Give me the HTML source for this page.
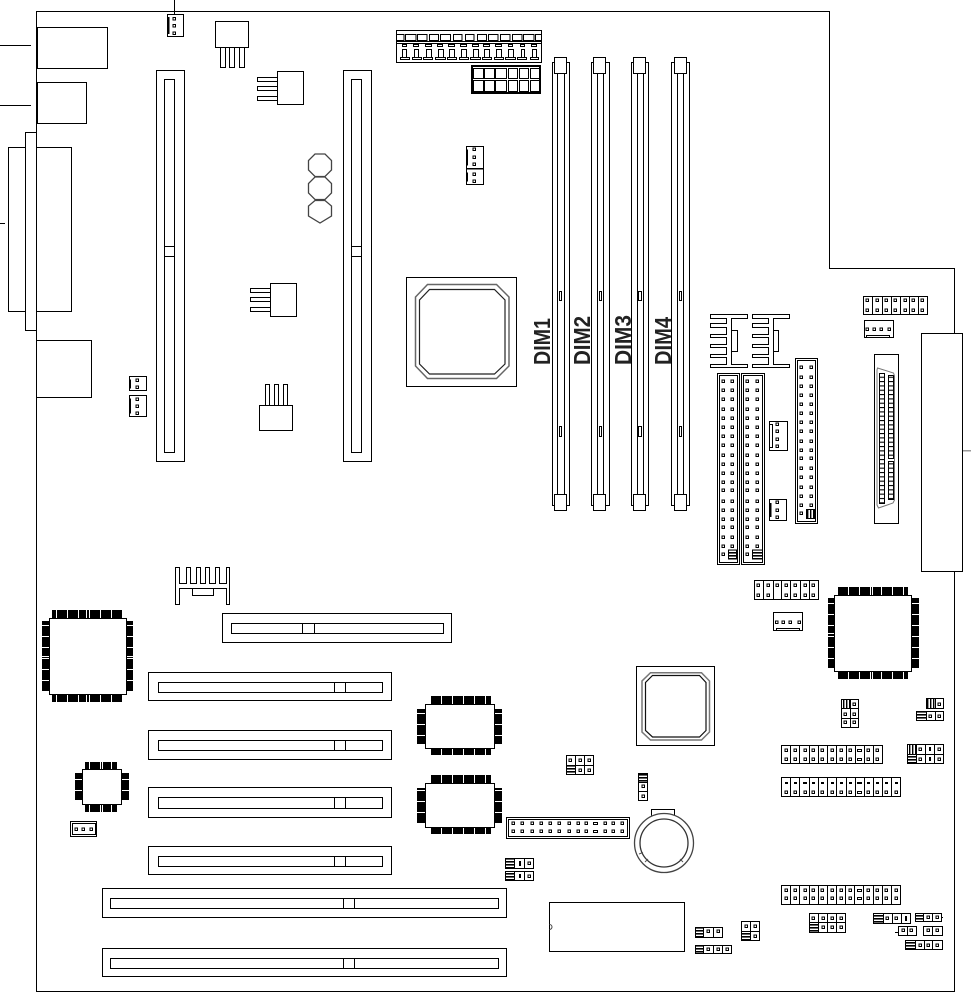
<!DOCTYPE html>
<html lang="en">
<head>
<meta charset="utf-8">
<title>Motherboard layout</title>
<style>
html,body{margin:0;padding:0;background:#fff}
svg{display:block}
.l{fill:none;stroke:#000;stroke-width:1}
.w{fill:#fff;stroke:#000;stroke-width:1}
.g{fill:none;stroke:#444;stroke-width:1.3}
.k{fill:#000;stroke:none}
.t{stroke:#fff;stroke-width:1;fill:none}
text{font-family:"Liberation Sans",sans-serif;font-size:23.5px;font-weight:bold;fill:#222}
</style>
</head>
<body>
<svg xmlns="http://www.w3.org/2000/svg" width="971" height="1002" viewBox="0 0 971 1002">
<defs>
<pattern id="hz" patternUnits="userSpaceOnUse" width="4" height="3"><rect width="4" height="3" fill="#fff"/><rect width="4" height="1.6" fill="#000"/></pattern>
<pattern id="vt" patternUnits="userSpaceOnUse" width="3" height="4"><rect width="3" height="4" fill="#fff"/><rect width="1.4" height="4" fill="#000"/></pattern>
<pattern id="cx" patternUnits="userSpaceOnUse" width="8" height="4.33"><rect width="8" height="4.33" fill="#fff"/><rect width="8" height="1.1" fill="#000"/></pattern>
<rect id="p" x="-1" y="-1" width="2.5" height="2.5" fill="#fff" stroke="#000" stroke-width="1"/>
<g id="ide">
<use href="#p" y="381"/><use href="#p" y="390"/><use href="#p" y="399"/><use href="#p" y="409"/><use href="#p" y="418"/><use href="#p" y="427"/><use href="#p" y="436"/><use href="#p" y="445"/><use href="#p" y="455"/><use href="#p" y="464"/><use href="#p" y="473"/><use href="#p" y="482"/><use href="#p" y="490"/><use href="#p" y="501"/><use href="#p" y="510"/><use href="#p" y="519"/><use href="#p" y="527"/><use href="#p" y="537"/><use href="#p" y="546"/><use href="#p" y="554"/>
</g>
<g id="fdd">
<use href="#p" y="367"/><use href="#p" y="377"/><use href="#p" y="386"/><use href="#p" y="395"/><use href="#p" y="404"/><use href="#p" y="413"/><use href="#p" y="422"/><use href="#p" y="431"/><use href="#p" y="441"/><use href="#p" y="450"/><use href="#p" y="458"/><use href="#p" y="468"/><use href="#p" y="477"/><use href="#p" y="487"/><use href="#p" y="496"/><use href="#p" y="505"/><use href="#p" y="513"/>
</g>
<path id="hs" class="l" d="M710.500 314.500H747.500V318.500H731.500V364.500H747.500V367.500H710.500V364.500H726.500V357.500H710.500V354.500H726.500V347.500H710.500V344.500H726.500V337.500H710.500V334.500H726.500V327.500H710.500V323.500H726.500V318.500H710.500Z"/>
</defs>
<g shape-rendering="crispEdges">
<!-- board outline -->
<path class="l" d="M36.500 11.500H829.500V268.500H954.500V991.500H36.500Z"/>
<path class="l" d="M174.500 0V14M0 45.500H31M0 105.500H31M0 223.500H5"/>
<path d="M962.500 450.500H971" stroke="#999" stroke-width="1.500" fill="none"/>

<!-- rear io -->
<rect class="w" x="37.500" y="27.500" width="70" height="41"/>
<rect class="w" x="37.500" y="82.500" width="49" height="41"/>
<rect class="w" x="8.500" y="147.500" width="63" height="164"/>
<rect class="w" x="25.500" y="132.500" width="11" height="198"/>
<rect class="w" x="36.500" y="340.500" width="55" height="57"/>

<!-- top left header -->
<rect class="w" x="167.500" y="14.500" width="16" height="22"/>
<path d="M168.500 17V34" stroke="#000" stroke-width="1.500"/>
<use href="#p" x="174" y="18.500"/><use href="#p" x="174" y="25.500"/><use href="#p" x="174" y="33"/>

<!-- regulators -->
<path class="l" d="M215.500 21.500H248.500V47.500H215.500ZM220.500 47.500V67.500H225.500V47.500M229.500 47.500V67.500H234.500V47.500M239.500 47.500V67.500H244.500V47.500"/>
<path class="l" d="M277.500 71.500H303.500V104.500H277.500ZM277.500 77.500H257.500V81.500H277.500M277.500 86.500H257.500V90.500H277.500M277.500 96.500H257.500V100.500H277.500"/>
<path class="l" d="M270.500 283.500H296.500V316.500H270.500ZM270.500 288.500H250.500V292.500H270.500M270.500 297.500H250.500V301.500H270.500M270.500 307.500H250.500V311.500H270.500"/>
<path class="l" d="M259.500 405.500H292.500V430.500H259.500ZM265.500 405.500V384.500H269.500V405.500M274.500 405.500V384.500H278.500V405.500M283.500 405.500V384.500H287.500V405.500"/>

<!-- vertical slots -->
<rect class="l" x="156.500" y="70.500" width="28" height="391"/>
<rect class="l" x="164.500" y="79.500" width="10" height="373"/>
<path class="l" d="M164.500 246.500H174.500M164.500 256.500H174.500"/>
<rect class="l" x="343.500" y="70.500" width="28" height="391"/>
<rect class="l" x="351.500" y="79.500" width="10" height="373"/>
<path class="l" d="M351.500 246.500H361.500M351.500 256.500H361.500"/>

<!-- ATX power -->
<rect class="l" x="396.500" y="30.500" width="145" height="32"/>
<path class="l" d="M396.500 41.500H541.500M396.500 43.500H541.500"/>
<path class="l" d="M396.500 34.500H404V40.500H396.500M405.500 34.500H416V40.500H405.500ZM417.500 34.500H427V40.500H417.500ZM429.500 34.500H438.500V40.500H429.500ZM440.500 34.500H450.500V40.500H440.500ZM453.500 34.500H462V40.500H453.500ZM465.500 34.500H474V40.500H465.500ZM477.500 34.500H486.500V40.500H477.500ZM488.500 34.500H498V40.500H488.500ZM500.500 34.500H510V40.500H500.500ZM512.500 34.500H522V40.500H512.500ZM523.500 34.500H534V40.500H523.500ZM535.500 34.500H541.500V40.500H535.500Z"/>
<path class="l" d="M402.500 44.500H406.500V46.500H402.500ZM413.500 44.500H418.500V46.500H413.500ZM425.500 44.500H431.500V46.500H425.500ZM437.500 44.500H442.500V46.500H437.500ZM448.500 44.500H454.500V46.500H448.500ZM460.500 44.500H466.500V46.500H460.500ZM472.500 44.500H478.500V46.500H472.500ZM483.500 44.500H489.500V46.500H483.500ZM495.500 44.500H501.500V46.500H495.500ZM508.500 44.500H512.500V46.500H508.500ZM520.500 44.500H524.500V46.500H520.500ZM531.500 44.500H536.500V46.500H531.500Z"/>
<path class="l" d="M402.500 49.500H406.500V57.500H402.500ZM414.500 49.500H418.500V57.500H414.500ZM426.500 49.500H431.500V57.500H426.500ZM438.500 49.500H443.500V57.500H438.500ZM449.500 49.500H454.500V57.500H449.500ZM461.500 49.500H466.500V57.500H461.500ZM473.500 49.500H478.500V57.500H473.500ZM484.500 49.500H489.500V57.500H484.500ZM496.500 49.500H501.500V57.500H496.500ZM508.500 49.500H513.500V57.500H508.500ZM521.500 49.500H524.500V57.500H521.500ZM532.500 49.500H536.500V57.500H532.500Z"/>
<path class="l" d="M400.500 57.500H409.500V59.500H400.500ZM412.500 57.500H421.500V59.500H412.500ZM423.500 57.500H432.500V59.500H423.500ZM435.500 57.500H445.500V59.500H435.500ZM447.500 57.500H456.500V59.500H447.500ZM459.500 57.500H468.500V59.500H459.500ZM470.500 57.500H480.500V59.500H470.500ZM482.500 57.500H491.500V59.500H482.500ZM494.500 57.500H503.500V59.500H494.500ZM505.500 57.500H515.500V59.500H505.500ZM517.500 57.500H526.500V59.500H517.500ZM530.500 57.500H538.500V59.500H530.500Z"/>

<!-- second power -->
<rect x="472" y="66" width="68" height="27" fill="#fff" stroke="#000" stroke-width="2"/>
<path class="l" d="M473.500 68.500H483.500V78.500H473.500ZM484.500 68.500H494.500V78.500H484.500ZM495.500 68.500H506.500V78.500H495.500ZM508.500 68.500H517.500V78.500H508.500ZM519.500 68.500H528.500V78.500H519.500ZM530.500 68.500H539.500V78.500H530.500Z"/>
<path class="l" d="M473.500 80.500H483.500V91.500H473.500ZM484.500 80.500H494.500V91.500H484.500ZM495.500 80.500H506.500V91.500H495.500ZM508.500 80.500H517.500V91.500H508.500ZM519.500 80.500H528.500V91.500H519.500ZM530.500 80.500H539.500V91.500H530.500Z"/>

<!-- small 3+2 header -->
<rect class="l" x="466.500" y="146.500" width="17" height="38"/>
<path d="M466 168.500H484" stroke="#000" stroke-width="1.500"/>
<path class="l" d="M467.500 149.500V165.500M467.500 172.500V181.500"/>
<use href="#p" x="474" y="149"/><use href="#p" x="474" y="157"/><use href="#p" x="474" y="164"/><use href="#p" x="474" y="174"/><use href="#p" x="474" y="181"/>

<!-- CPU -->
<rect class="l" x="406.500" y="277.500" width="110" height="109"/>

<!-- DIMMs -->
<path class="l" d="M552.500 62.500H569.500V505.500H552.500ZM557.500 62.500V505.500M564.500 62.500V505.500"/>
<rect class="w" x="554.500" y="57.500" width="12" height="16"/><rect class="w" x="554.500" y="494.500" width="12" height="16"/>
<rect class="w" x="559.500" y="291.500" width="2" height="9"/><rect class="w" x="559.500" y="426.500" width="2" height="10"/>
<path class="l" d="M591.500 62.500H609.500V505.500H591.500ZM597.500 62.500V505.500M603.500 62.500V505.500"/>
<rect class="w" x="593.500" y="57.500" width="12" height="16"/><rect class="w" x="593.500" y="494.500" width="12" height="16"/>
<rect class="w" x="599.500" y="291.500" width="2" height="9"/><rect class="w" x="599.500" y="426.500" width="2" height="10"/>
<path class="l" d="M631.500 62.500H648.500V505.500H631.500ZM637.500 62.500V505.500M643.500 62.500V505.500"/>
<rect class="w" x="633.500" y="57.500" width="12" height="16"/><rect class="w" x="633.500" y="494.500" width="12" height="16"/>
<rect class="w" x="638.500" y="291.500" width="3" height="9"/><rect class="w" x="638.500" y="426.500" width="3" height="10"/>
<path class="l" d="M671.500 62.500H689.500V505.500H671.500ZM677.500 62.500V505.500M683.500 62.500V505.500"/>
<rect class="w" x="674.500" y="57.500" width="12" height="16"/><rect class="w" x="674.500" y="494.500" width="12" height="16"/>
<rect class="w" x="679.500" y="291.500" width="2" height="9"/><rect class="w" x="679.500" y="426.500" width="2" height="10"/>

<!-- heatsinks -->
<use href="#hs"/>
<rect class="l" x="731.500" y="330.500" width="6" height="21"/>
<use href="#hs" x="42"/>
<rect class="l" x="773.500" y="330.500" width="5" height="21"/>

<!-- IDE -->
<rect class="l" x="717.500" y="373.500" width="22" height="191"/>
<rect class="l" x="719.500" y="375.500" width="18" height="187"/>
<use href="#ide" x="723"/><use href="#ide" x="732"/>
<rect x="728.500" y="550" width="8" height="9" fill="url(#hz)" stroke="#000" stroke-width="1"/>
<rect class="l" x="741.500" y="373.500" width="23" height="191"/>
<rect class="l" x="743.500" y="375.500" width="19" height="187"/>
<use href="#ide" x="747"/><use href="#ide" x="757"/>
<rect x="752.500" y="550" width="10" height="9" fill="url(#hz)" stroke="#000" stroke-width="1"/>
<rect class="l" x="795.500" y="358.500" width="22" height="165"/>
<rect class="l" x="797.500" y="360.500" width="18" height="161"/>
<use href="#fdd" x="801"/><use href="#fdd" x="811"/>
<rect x="806.500" y="509.500" width="8" height="9" fill="url(#vt)" stroke="#000" stroke-width="1"/>

<!-- mid connectors -->
<rect class="l" x="769.500" y="421.500" width="18" height="29"/>
<rect class="l" x="769.500" y="424.500" width="3" height="23"/>
<use href="#p" x="777" y="424"/><use href="#p" x="777" y="431"/><use href="#p" x="777" y="439"/><use href="#p" x="777" y="446"/>
<rect class="l" x="769.500" y="499.500" width="17" height="21"/>
<path d="M770.500 503V517" stroke="#000" stroke-width="1.500"/>
<use href="#p" x="777" y="502"/><use href="#p" x="777" y="510"/><use href="#p" x="777" y="517"/>

<!-- top right header -->
<path class="l" d="M863.500 296.500H927.500V314.500H863.500ZM872.500 296.500V314.500M882.500 296.500V314.500M891.500 296.500V314.500M900.500 296.500V314.500M909.500 296.500V314.500M918.500 296.500V314.500"/>
<use href="#p" x="867" y="300"/><use href="#p" x="877" y="300"/><use href="#p" x="886" y="300"/><use href="#p" x="895" y="300"/><use href="#p" x="905" y="300"/><use href="#p" x="913" y="300"/><use href="#p" x="922" y="300"/>
<use href="#p" x="867" y="310"/><use href="#p" x="877" y="310"/><use href="#p" x="886" y="310"/><use href="#p" x="895" y="310"/><use href="#p" x="905" y="310"/><use href="#p" x="913" y="310"/><use href="#p" x="922" y="310"/>
<rect class="l" x="864.500" y="320.500" width="29" height="17"/>
<path class="l" d="M866.500 337.500V335.500H889.500V337.500"/>
<use href="#p" x="867" y="329"/><use href="#p" x="874" y="329"/><use href="#p" x="881" y="329"/><use href="#p" x="889" y="329"/>

<!-- big rear rect -->
<rect class="w" x="921.500" y="333.500" width="41" height="238"/>

<!-- centronics -->
<rect class="l" x="874.500" y="354.500" width="24" height="169"/>
<rect x="879.500" y="373.500" width="5" height="130" fill="url(#cx)" stroke="#000" stroke-width="1"/>
<rect x="888.500" y="375.500" width="5" height="83" fill="url(#cx)" stroke="#000" stroke-width="1"/>
<rect x="888.500" y="461.500" width="5" height="38" fill="url(#cx)" stroke="#000" stroke-width="1"/>

<!-- right top chip -->
<rect class="k" x="838" y="587" width="70" height="9"/><rect class="k" x="838" y="671" width="70" height="8"/>
<rect class="k" x="828" y="598" width="7" height="70"/><rect class="k" x="911" y="598" width="8" height="70"/>
<path class="t" d="M848.500 587V595M859.500 587V595M870.500 587V595M872.500 587V595M881.500 587V595M892.500 587V595M903.500 587V595M848.500 672V679M859.500 672V679M870.500 672V679M872.500 672V679M881.500 672V679M892.500 672V679M903.500 672V679M828 603.500H834M828 614.500H834M828 625.500H834M828 633.500H834M828 636.500H834M828 647.500H834M828 658.500H834M912 603.500H919M912 614.500H919M912 625.500H919M912 636.500H919M912 647.500H919M912 658.500H919"/>
<rect class="w" x="834.500" y="595.500" width="77" height="76"/>

<!-- right headers -->
<path class="l" d="M754.500 580.500H818.500V599.500H754.500ZM763.500 580.500V599.500M773.500 580.500V599.500M781.500 580.500V599.500M790.500 580.500V599.500M800.500 580.500V599.500M809.500 580.500V599.500"/>
<use href="#p" x="758" y="585"/><use href="#p" x="768" y="585"/><use href="#p" x="777" y="585"/><use href="#p" x="786" y="585"/><use href="#p" x="795" y="585"/><use href="#p" x="805" y="585"/><use href="#p" x="813" y="585"/>
<use href="#p" x="758" y="595"/><use href="#p" x="768" y="595"/><use href="#p" x="786" y="595"/><use href="#p" x="795" y="595"/><use href="#p" x="805" y="595"/><use href="#p" x="813" y="595"/>
<rect class="l" x="773.500" y="612.500" width="29" height="18"/>
<path class="l" d="M776.500 630.500V628.500H799.500V630.500"/>
<use href="#p" x="776.500" y="622"/><use href="#p" x="783" y="622"/><use href="#p" x="790" y="622"/><use href="#p" x="799" y="622"/>

<!-- J1 -->
<path class="l" d="M841.500 699.500H858.500V727.500H841.500ZM850.500 699.500V727.500M841.500 708.500H858.500M841.500 718.500H858.500"/>
<rect x="841.500" y="699.500" width="9" height="9" fill="url(#vt)" stroke="#000"/>
<use href="#p" x="854" y="704"/><use href="#p" x="845" y="714"/><use href="#p" x="854" y="714"/><use href="#p" x="845" y="722"/><use href="#p" x="854" y="722"/>
<!-- J2 J3 -->
<path class="l" d="M926.500 698.500H943.500V708.500H926.500Z"/>
<rect x="926.500" y="698.500" width="9" height="10" fill="url(#vt)" stroke="#000"/>
<use href="#p" x="939" y="704"/>
<path class="l" d="M916.500 711.500H943.500V720.500H916.500ZM935.500 711.500V720.500"/>
<rect x="916.500" y="711.500" width="10" height="9" fill="url(#hz)" stroke="#000"/>
<use href="#p" x="930" y="716"/><use href="#p" x="939" y="716"/>
<!-- H1 -->
<path class="l" d="M781.500 745.500H882.500V763.500H781.500ZM790.500 745.500V763.500M799.500 745.500V763.500M809.500 745.500V763.500M818.500 745.500V763.500M827.500 745.500V763.500M836.500 745.500V763.500M846.500 745.500V763.500M855.500 745.500V763.500M864.500 745.500V763.500M873.500 745.500V763.500"/>
<use href="#p" x="786" y="750"/><use href="#p" x="795" y="750"/><use href="#p" x="805" y="750"/><use href="#p" x="813" y="750"/><use href="#p" x="822" y="750"/><use href="#p" x="832" y="750"/><use href="#p" x="841" y="750"/><use href="#p" x="850" y="750"/><rect class="l" x="857.500" y="749.500" width="4" height="2"/><use href="#p" x="868" y="750"/><use href="#p" x="877" y="750"/>
<use href="#p" x="786" y="759"/><use href="#p" x="795" y="759"/><use href="#p" x="805" y="759"/><use href="#p" x="813" y="759"/><use href="#p" x="822" y="759"/><use href="#p" x="832" y="759"/><use href="#p" x="841" y="759"/><use href="#p" x="850" y="759"/><rect class="l" x="857.500" y="758.500" width="4" height="2"/><use href="#p" x="868" y="759"/><use href="#p" x="877" y="759"/>
<!-- J4 -->
<path class="l" d="M907.500 744.500H943.500V763.500H907.500ZM916.500 744.500V763.500M925.500 744.500V763.500M934.500 744.500V763.500M907.500 754.500H943.500"/>
<rect x="907.500" y="744.500" width="9" height="10" fill="url(#vt)" stroke="#000"/>
<rect x="907.500" y="754.500" width="9" height="9" fill="url(#hz)" stroke="#000"/>
<use href="#p" x="920" y="749"/><path class="k" d="M929 747h2v4h-2z"/><use href="#p" x="939" y="749"/>
<use href="#p" x="920" y="759"/><path class="k" d="M929 757h2v4h-2z"/><use href="#p" x="939" y="759"/>
<!-- H2 -->
<path class="l" d="M781.500 777.500H900.500V796.500H781.500ZM790.500 777.500V796.500M799.500 777.500V796.500M809.500 777.500V796.500M818.500 777.500V796.500M827.500 777.500V796.500M836.500 777.500V796.500M846.500 777.500V796.500M855.500 777.500V796.500M864.500 777.500V796.500M873.500 777.500V796.500M882.500 777.500V796.500M891.500 777.500V796.500"/>
<path class="k" d="M785 782h3v2h-3zM794 782h3v2h-3zM803 782h4v2h-4zM812 782h3v2h-3zM821 782h3v2h-3zM831 782h3v2h-3zM840 782h3v2h-3zM849 782h3v2h-3zM857 782h5v2h-5zM867 782h3v2h-3zM876 782h3v2h-3zM885 782h3v2h-3zM895 782h3v2h-3z"/>
<use href="#p" x="786" y="792"/><use href="#p" x="795" y="792"/><use href="#p" x="805" y="792"/><use href="#p" x="813" y="792"/><use href="#p" x="822" y="792"/><use href="#p" x="832" y="792"/><use href="#p" x="841" y="792"/><use href="#p" x="850" y="792"/><rect class="l" x="857.500" y="791.500" width="4" height="2"/><use href="#p" x="868" y="792"/><use href="#p" x="877" y="792"/><use href="#p" x="886" y="792"/><use href="#p" x="896" y="792"/>
<!-- H3 -->
<path class="l" d="M781.500 885.500H900.500V904.500H781.500ZM790.500 885.500V904.500M799.500 885.500V904.500M809.500 885.500V904.500M818.500 885.500V904.500M827.500 885.500V904.500M836.500 885.500V904.500M845.500 885.500V904.500M854.500 885.500V904.500M863.500 885.500V904.500M873.500 885.500V904.500M882.500 885.500V904.500M891.500 885.500V904.500"/>
<use href="#p" x="786" y="890"/><use href="#p" x="795" y="890"/><use href="#p" x="805" y="890"/><use href="#p" x="813" y="890"/><use href="#p" x="822" y="890"/><use href="#p" x="832" y="890"/><use href="#p" x="841" y="890"/><use href="#p" x="850" y="890"/><rect class="l" x="857.500" y="889.500" width="4" height="2"/><use href="#p" x="868" y="890"/><use href="#p" x="877" y="890"/><use href="#p" x="886" y="890"/><use href="#p" x="896" y="890"/>
<use href="#p" x="786" y="898"/><use href="#p" x="795" y="898"/><use href="#p" x="805" y="898"/><use href="#p" x="813" y="898"/><use href="#p" x="822" y="898"/><use href="#p" x="832" y="898"/><use href="#p" x="841" y="898"/><use href="#p" x="850" y="898"/><rect class="l" x="857.500" y="897.500" width="4" height="2"/><use href="#p" x="868" y="898"/><use href="#p" x="877" y="898"/><use href="#p" x="886" y="898"/><use href="#p" x="896" y="898"/>
<!-- J5 -->
<path class="l" d="M809.500 913.500H845.500V932.500H809.500ZM818.500 913.500V932.500M827.500 913.500V932.500M836.500 913.500V932.500M809.500 922.500H845.500"/>
<rect x="809.500" y="922.500" width="9" height="10" fill="url(#hz)" stroke="#000"/>
<use href="#p" x="813" y="918"/><use href="#p" x="823" y="918"/><use href="#p" x="832" y="918"/><use href="#p" x="841" y="918"/>
<use href="#p" x="823" y="927"/><use href="#p" x="832" y="927"/><use href="#p" x="841" y="927"/>
<!-- J6-J10 -->
<path class="l" d="M873.500 913.500H910.500V923.500H873.500ZM883.500 913.500V923.500M892.500 913.500V923.500M901.500 913.500V923.500"/>
<rect x="873.500" y="913.500" width="10" height="10" fill="url(#hz)" stroke="#000"/>
<use href="#p" x="887" y="918"/><use href="#p" x="896" y="918"/><path class="k" d="M905 916h2v5h-2z"/>
<path class="l" d="M915.500 913.500H941.500V921.500H915.500ZM932.500 913.500V921.500M941.500 917.500H943"/>
<rect x="915.500" y="913.500" width="8" height="8" fill="url(#hz)" stroke="#000"/>
<use href="#p" x="928" y="917"/><use href="#p" x="937" y="917"/>
<path class="l" d="M898.500 926.500H916.500V935.500H898.500ZM907.500 926.500V935.500M895 932.500H898.500"/>
<use href="#p" x="903" y="930"/><use href="#p" x="911" y="930"/>
<path class="l" d="M923.500 926.500H942.500V935.500H923.500ZM932.500 926.500V935.500"/>
<use href="#p" x="928" y="930"/><use href="#p" x="937" y="930"/>
<path class="l" d="M905.500 940.500H942.500V949.500H905.500ZM915.500 940.500V949.500M924.500 940.500V949.500M932.500 940.500V949.500"/>
<rect x="905.500" y="940.500" width="10" height="9" fill="url(#hz)" stroke="#000"/>
<use href="#p" x="920" y="945"/><use href="#p" x="928" y="945"/><use href="#p" x="937" y="945"/>
<!-- J11-13 -->
<path class="l" d="M695.500 927.500H722.500V937.500H695.500ZM713.500 927.500V937.500"/>
<rect x="695.500" y="927.500" width="8" height="10" fill="url(#hz)" stroke="#000"/>
<use href="#p" x="708" y="931"/><use href="#p" x="718" y="931"/>
<path class="l" d="M695.500 945.500H731.500V953.500H695.500ZM713.500 945.500V953.500M722.500 945.500V953.500"/>
<rect x="695.500" y="945.500" width="8" height="8" fill="url(#hz)" stroke="#000"/>
<use href="#p" x="708" y="949"/><use href="#p" x="718" y="949"/><use href="#p" x="727" y="949"/>
<path class="l" d="M741.500 921.500H759.500V940.500H741.500ZM750.500 921.500V940.500M741.500 931.500H759.500"/>
<rect x="741.500" y="931.500" width="9" height="9" fill="url(#hz)" stroke="#000"/>
<use href="#p" x="746" y="926"/><use href="#p" x="755" y="926"/><use href="#p" x="755" y="936"/>

<!-- left QFP -->
<rect class="k" x="52" y="610" width="70" height="9"/><rect class="k" x="52" y="694" width="70" height="8"/>
<rect class="k" x="42" y="621" width="8" height="70"/><rect class="k" x="126" y="621" width="7" height="70"/>
<path class="t" d="M56.500 610V618M67.500 610V618M78.500 610V618M86.500 610V618M89.500 610V618M100.500 610V618M111.500 610V618M56.500 695V702M67.500 695V702M78.500 695V702M86.500 695V702M89.500 695V702M100.500 695V702M111.500 695V702M42 625.500H49M42 636.500H49M42 647.500H49M42 656.500H49M42 658.500H49M42 669.500H49M42 680.500H49M127 625.500H133M127 636.500H133M127 647.500H133M127 656.500H133M127 658.500H133M127 669.500H133M127 680.500H133"/>
<rect class="w" x="49.500" y="618.500" width="77" height="76"/>

<!-- small chip -->
<rect class="k" x="85" y="762" width="32" height="8"/><rect class="k" x="85" y="804" width="32" height="8"/>
<rect class="k" x="75" y="773" width="8" height="27"/><rect class="k" x="121" y="773" width="8" height="27"/>
<path class="t" d="M89.500 762V769M100.500 762V769M102.500 762V769M111.500 762V769M89.500 805V812M100.500 805V812M102.500 805V812M111.500 805V812M75 779.500H82M75 790.500H82M122 779.500H129M122 790.500H129"/>
<rect class="w" x="82.500" y="769.500" width="39" height="35"/>
<rect class="l" x="70.500" y="821.500" width="26" height="15"/>
<rect class="l" x="72.500" y="823.500" width="23" height="11"/>
<use href="#p" x="76" y="829"/><use href="#p" x="83" y="829"/><use href="#p" x="91" y="829"/>

<!-- heatsink -->
<path class="l" d="M175.500 567.500H179.500V583.500H186.500V567.500H190.500V583.500H196.500V567.500H200.500V583.500H205.500V567.500H209.500V583.500H215.500V567.500H219.500V583.500H226.500V567.500H229.500V604.500H226.500V588.500H179.500V604.500H175.500Z"/>
<rect class="l" x="192.500" y="588.500" width="21" height="7"/>

<!-- horizontal slots -->
<rect class="l" x="222.500" y="613.500" width="229" height="29"/><rect class="l" x="231.500" y="623.500" width="212" height="10"/><path class="l" d="M302.500 623.500V633.500M314.500 623.500V633.500"/>
<rect class="l" x="148.500" y="672.500" width="243" height="28"/><rect class="l" x="158.500" y="682.500" width="224" height="10"/><path class="l" d="M334.500 682.500V692.500M345.500 682.500V692.500"/>
<rect class="l" x="148.500" y="730.500" width="243" height="29"/><rect class="l" x="158.500" y="740.500" width="224" height="10"/><path class="l" d="M334.500 740.500V750.500M345.500 740.500V750.500"/>
<rect class="l" x="148.500" y="787.500" width="243" height="30"/><rect class="l" x="158.500" y="797.500" width="224" height="11"/><path class="l" d="M334.500 797.500V808.500M345.500 797.500V808.500"/>
<rect class="l" x="148.500" y="846.500" width="243" height="28"/><rect class="l" x="158.500" y="856.500" width="224" height="10"/><path class="l" d="M334.500 856.500V866.500M345.500 856.500V866.500"/>
<rect class="l" x="102.500" y="888.500" width="404" height="29"/><rect class="l" x="110.500" y="898.500" width="388" height="10"/><path class="l" d="M343.500 898.500V908.500M354.500 898.500V908.500"/>
<rect class="l" x="102.500" y="948.500" width="404" height="28"/><rect class="l" x="110.500" y="958.500" width="388" height="10"/><path class="l" d="M343.500 958.500V968.500M354.500 958.500V968.500"/>

<!-- mid chips -->
<rect class="k" x="431" y="696" width="60" height="9"/><rect class="k" x="431" y="748" width="60" height="7"/>
<rect class="k" x="417" y="709" width="9" height="35"/><rect class="k" x="494" y="709" width="8" height="35"/>
<path class="t" d="M441.500 696V704M452.500 696V704M463.500 696V704M474.500 696V704M485.500 696V704M441.500 749V755M452.500 749V755M463.500 749V755M474.500 749V755M485.500 749V755M417 713.500H425M417 724.500H425M417 735.500H425M495 713.500H502M495 724.500H502M495 735.500H502"/>
<rect class="w" x="425.500" y="704.500" width="69" height="44"/>
<rect class="k" x="431" y="775" width="60" height="9"/><rect class="k" x="431" y="827" width="60" height="7"/>
<rect class="k" x="417" y="788" width="9" height="35"/><rect class="k" x="494" y="788" width="8" height="35"/>
<path class="t" d="M441.500 775V783M452.500 775V783M463.500 775V783M474.500 775V783M485.500 775V783M441.500 828V834M452.500 828V834M463.500 828V834M474.500 828V834M485.500 828V834M417 790.500H425M417 801.500H425M417 812.500H425M495 790.500H502M495 801.500H502M495 812.500H502"/>
<rect class="w" x="425.500" y="783.500" width="69" height="44"/>

<!-- north bridge -->
<rect class="l" x="636.500" y="666.500" width="78" height="79"/>

<!-- jumpers centre -->
<path class="l" d="M566.500 755.500H593.500V774.500H566.500ZM575.500 755.500V774.500M584.500 755.500V774.500M566.500 765.500H593.500"/>
<rect x="566.500" y="765.500" width="9" height="9" fill="url(#hz)" stroke="#000"/>
<use href="#p" x="570" y="760"/><use href="#p" x="580" y="760"/><use href="#p" x="589" y="760"/><use href="#p" x="580" y="770"/><use href="#p" x="589" y="770"/>
<path class="l" d="M638.500 773.500H647.500V800.500H638.500ZM638.500 791.500H647.500"/>
<rect x="638.500" y="773.500" width="9" height="9" fill="url(#hz)" stroke="#000"/>
<use href="#p" x="643" y="786"/><use href="#p" x="643" y="796"/>
<rect class="l" x="506.500" y="817.500" width="123" height="21"/>
<rect x="508.500" y="819.500" width="119" height="17" fill="none" stroke="#000"/>
<use href="#p" x="513" y="823"/><use href="#p" x="522" y="823"/><use href="#p" x="532" y="823"/><use href="#p" x="541" y="823"/><use href="#p" x="550" y="823"/><use href="#p" x="559" y="823"/><use href="#p" x="569" y="823"/><use href="#p" x="578" y="823"/><use href="#p" x="586" y="823"/><rect class="l" x="593.500" y="822.500" width="4" height="2"/><use href="#p" x="605" y="823"/><use href="#p" x="613" y="823"/><use href="#p" x="622" y="823"/>
<use href="#p" x="513" y="831"/><use href="#p" x="522" y="831"/><use href="#p" x="532" y="831"/><use href="#p" x="541" y="831"/><use href="#p" x="550" y="831"/><use href="#p" x="559" y="831"/><use href="#p" x="569" y="831"/><use href="#p" x="578" y="831"/><use href="#p" x="586" y="831"/><rect class="l" x="593.500" y="830.500" width="4" height="2"/><use href="#p" x="605" y="831"/><use href="#p" x="613" y="831"/><use href="#p" x="622" y="831"/>
<path class="l" d="M505.500 858.500H533.500V868.500H505.500ZM524.500 858.500V868.500"/>
<rect x="505.500" y="858.500" width="9" height="10" fill="url(#hz)" stroke="#000"/>
<path class="k" d="M519 861h2v5h-2z"/><use href="#p" x="529" y="863"/>
<path class="l" d="M505.500 871.500H533.500V880.500H505.500ZM524.500 871.500V880.500"/>
<rect x="505.500" y="871.500" width="9" height="9" fill="url(#hz)" stroke="#000"/>
<path class="k" d="M519 874h2v4h-2z"/><use href="#p" x="529" y="876"/>

<!-- battery tab, big chip -->
<path class="l" d="M651.500 815.500V809.500H674.500V815.500"/>
<rect class="l" x="549.500" y="902.500" width="135" height="49"/>

<!-- left two small headers -->
<rect class="l" x="129.500" y="376.500" width="17" height="14"/>
<rect class="l" x="129.500" y="395.500" width="17" height="21"/>
<path class="l" d="M130.500 379.500V388.500M130.500 398.500V413.500"/>
<use href="#p" x="137" y="380"/><use href="#p" x="137" y="387"/><use href="#p" x="137" y="399"/><use href="#p" x="137" y="406"/><use href="#p" x="137" y="413"/>
</g>

<!-- anti-aliased grey outlines -->
<polygon class="g" points="315,154 325,154 331.500,160.500 331.500,170 325,176.500 315,176.500 308.500,170 308.500,160.500"/>
<polygon class="g" points="315,177 325,177 331.500,183.500 331.500,193 325,199.500 315,199.500 308.500,193 308.500,183.500"/>
<polygon class="g" points="315,200.500 325,200.500 331.500,206 331.500,216 320,223 308.500,216 308.500,206"/>
<polygon points="427.500,284.500 496.500,284.500 509,297 509,366 496.500,378.500 427.500,378.500 415.500,366 415.500,297" fill="none" stroke="#666" stroke-width="1.500"/>
<polygon points="429.500,289.500 494.500,289.500 505,300 505,364 494.500,374 429.500,374 419.500,364 419.500,300" fill="none" stroke="#222" stroke-width="1.200"/>
<polygon points="650.500,672.700 701.500,672.700 709.500,681 709.500,732 701.500,740 650.500,740 642,732 642,681" fill="none" stroke="#777" stroke-width="1.500"/>
<polygon points="652.500,675.500 699.500,675.500 706,682.500 706,730.500 699.500,737 652.500,737 645.500,730.500 645.500,682.500" fill="none" stroke="#111" stroke-width="1.200"/>
<polygon points="877.500,368 893.500,373 894.500,376 894.500,500 893,503 878.500,508 877,505 877,370" fill="none" stroke="#777" stroke-width="1"/>
<circle cx="664" cy="843" r="29.500" fill="none" stroke="#444" stroke-width="1.300"/>
<circle cx="664" cy="843" r="24" fill="none" stroke="#333" stroke-width="1.300"/>
<path d="M639 854l4-1.500M645 862l3-3M683 862l-3-3" fill="none" stroke="#555" stroke-width="1"/>
<path d="M549.500 924.500a2.500 2.500 0 0 1 0 5" fill="none" stroke="#444" stroke-width="1"/>

<text transform="translate(550,365) rotate(-90)" textLength="47" lengthAdjust="spacingAndGlyphs">DIM1</text>
<text transform="translate(590,365) rotate(-90)" textLength="49" lengthAdjust="spacingAndGlyphs">DIM2</text>
<text transform="translate(631,365) rotate(-90)" textLength="50" lengthAdjust="spacingAndGlyphs">DIM3</text>
<text transform="translate(671,365) rotate(-90)" textLength="48" lengthAdjust="spacingAndGlyphs">DIM4</text>
</svg>
</body>
</html>
